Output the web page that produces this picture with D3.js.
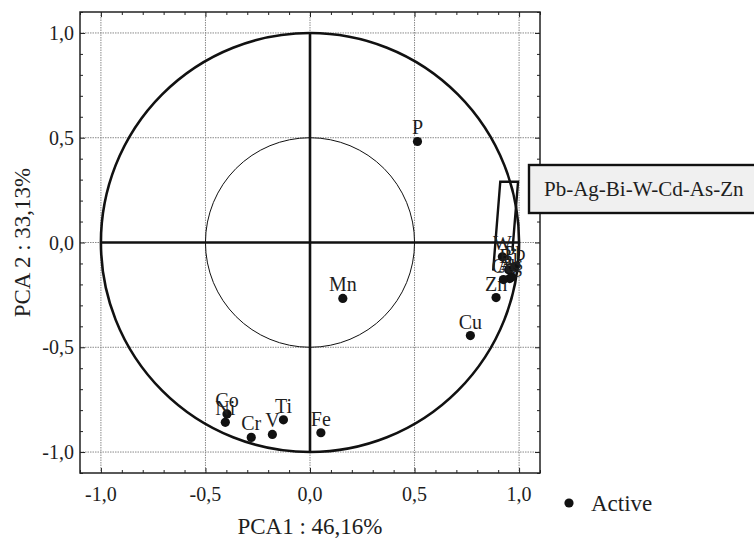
<!DOCTYPE html>
<html>
<head>
<meta charset="utf-8">
<script src="https://cdn.jsdelivr.net/npm/d3@7"></script>
<style>
  body { margin: 0; background: #fff; }
  svg { display: block; font-family: "Liberation Serif", "Times New Roman", serif; }
</style>
</head>
<body>
<svg id="chart" width="754" height="538"></svg>
<script>
/* PCA variable loadings on the correlation circle. */

const names = ["P", "Mn", "Cu", "Zn", "W", "Pb", "Bi", "Ag", "Cd", "As", "Co", "Ni", "Cr", "V", "Ti", "Fe"];
const pc1 = [0.514, 0.157, 0.767, 0.89, 0.92, 0.98, 0.95, 0.955, 0.925, 0.965, -0.397, -0.405, -0.281, -0.18, -0.127, 0.052];
const pc2 = [0.482, -0.267, -0.444, -0.263, -0.068, -0.115, -0.13, -0.172, -0.177, -0.165, -0.818, -0.858, -0.93, -0.916, -0.846, -0.908];

const majorTicks = [-1, -0.5, 0, 0.5, 1];
const minorTicks = d3.range(-11, 12).map((i) => i / 10);
const tickLabels = ["-1,0", "-0,5", "0,0", "0,5", "1,0"];

// hand-drawn lasso round the Pb-Ag-Bi-W-Cd-As-Zn group
const lassoX = [0.876, 0.91, 0.995, 0.968];
const lassoY = [-0.134, 0.29, 0.29, -0.04];

const groupLabel = "Pb-Ag-Bi-W-Cd-As-Zn";
const xTitle = "PCA1 : 46,16%";
const yTitle = "PCA 2 : 33,13%";
const legendLabel = "Active";

const svg = d3.select("#chart");
const L = 80, R = 540, T = 12, B = 473;
const ink = "#1e1e1e";

const x = d3.scaleLinear().domain([-1.1, 1.1]).range([L, R]);
const y = d3.scaleLinear().domain([-1.1, 1.1]).range([B, T]);

/* ---------- grid ---------- */

const grid = svg.append("g").attr("stroke", "#8a8a8a").attr("stroke-width", 1).attr("stroke-dasharray", "1.5,1");
grid.selectAll("line.gx").data(majorTicks).join("line")
  .attr("x1", (d) => x(d)).attr("x2", (d) => x(d)).attr("y1", T).attr("y2", B);
grid.selectAll("line.gy").data(majorTicks).join("line")
  .attr("y1", (d) => y(d)).attr("y2", (d) => y(d)).attr("x1", L).attr("x2", R);

/* ---------- ticks (inward, all four sides) ---------- */

const frame = svg.append("g");
const tickLen = (d) => (majorTicks.some((m) => Math.abs(m - d) < 1e-9) ? 5 : 3);
frame.append("g").attr("transform", `translate(0,${B})`)
  .call(d3.axisBottom(x).tickValues(minorTicks).tickFormat("").tickSizeOuter(0))
  .call((g) => g.selectAll(".tick line").attr("y2", (d) => -tickLen(d)));
frame.append("g").attr("transform", `translate(0,${T})`)
  .call(d3.axisTop(x).tickValues(minorTicks).tickFormat("").tickSizeOuter(0))
  .call((g) => g.selectAll(".tick line").attr("y2", (d) => tickLen(d)));
frame.append("g").attr("transform", `translate(${L},0)`)
  .call(d3.axisLeft(y).tickValues(minorTicks).tickFormat("").tickSizeOuter(0))
  .call((g) => g.selectAll(".tick line").attr("x2", (d) => tickLen(d)));
frame.append("g").attr("transform", `translate(${R},0)`)
  .call(d3.axisRight(y).tickValues(minorTicks).tickFormat("").tickSizeOuter(0))
  .call((g) => g.selectAll(".tick line").attr("x2", (d) => -tickLen(d)));
frame.selectAll(".domain").remove();
frame.selectAll(".tick line").attr("stroke", "#222").attr("stroke-width", 1);

svg.append("rect")
  .attr("x", L).attr("y", T).attr("width", R - L).attr("height", B - T)
  .attr("fill", "none").attr("stroke", "#222").attr("stroke-width", 1.5);

/* ---------- tick labels ---------- */

svg.append("g").selectAll("text").data(majorTicks).join("text")
  .attr("x", (d) => x(d)).attr("y", B + 28)
  .attr("text-anchor", "middle").attr("font-size", 20).attr("fill", ink)
  .text((d, i) => tickLabels[i]);
svg.append("g").selectAll("text").data(majorTicks).join("text")
  .attr("x", L - 6).attr("y", (d) => y(d) + 7)
  .attr("text-anchor", "end").attr("font-size", 20).attr("fill", ink)
  .text((d, i) => tickLabels[i]);

svg.append("text")
  .attr("x", x(0)).attr("y", 534)
  .attr("text-anchor", "middle").attr("font-size", 23).attr("fill", ink)
  .text(xTitle);
svg.append("text")
  .attr("transform", `translate(30,${y(0)}) rotate(-90)`)
  .attr("text-anchor", "middle").attr("font-size", 23).attr("fill", ink)
  .text(yTitle);

/* ---------- circles and cross ---------- */

svg.append("ellipse")
  .attr("cx", x(0)).attr("cy", y(0))
  .attr("rx", x(1) - x(0)).attr("ry", y(0) - y(1))
  .attr("fill", "none").attr("stroke", "#111").attr("stroke-width", 2.6);
svg.append("ellipse")
  .attr("cx", x(0)).attr("cy", y(0))
  .attr("rx", x(0.5) - x(0)).attr("ry", y(0) - y(0.5))
  .attr("fill", "none").attr("stroke", "#111").attr("stroke-width", 1);
svg.append("line")
  .attr("x1", x(-1)).attr("x2", x(1)).attr("y1", y(0)).attr("y2", y(0))
  .attr("stroke", "#111").attr("stroke-width", 2.6);
svg.append("line")
  .attr("x1", x(0)).attr("x2", x(0)).attr("y1", y(-1)).attr("y2", y(1))
  .attr("stroke", "#111").attr("stroke-width", 2.6);

/* ---------- callout ---------- */

svg.append("path")
  .attr("d", d3.line().x((d, i) => x(lassoX[i])).y((d, i) => y(lassoY[i]))(lassoX))
  .attr("fill", "none").attr("stroke", "#111").attr("stroke-width", 2.4);

svg.append("rect")
  .attr("x", 529).attr("y", 165).attr("width", 232).attr("height", 48)
  .attr("fill", "#f0f0f0").attr("stroke", "#111").attr("stroke-width", 2.4);
svg.append("text")
  .attr("x", 544).attr("y", 196).attr("font-size", 21).attr("fill", ink)
  .text(groupLabel);

/* ---------- points ---------- */

const pts = svg.append("g").selectAll("g").data(names).join("g")
  .attr("transform", (d, i) => `translate(${x(pc1[i])},${y(pc2[i])})`);
pts.append("circle").attr("r", 4.6).attr("fill", "#111");
pts.append("text")
  .attr("y", -7).attr("text-anchor", "middle")
  .attr("font-size", 20).attr("fill", ink)
  .text((d) => d);

/* ---------- legend ---------- */

svg.append("circle").attr("cx", 569).attr("cy", 503).attr("r", 4.6).attr("fill", "#111");
svg.append("text")
  .attr("x", 591).attr("y", 511).attr("font-size", 23).attr("fill", ink)
  .text(legendLabel);
</script>
</body>
</html>
